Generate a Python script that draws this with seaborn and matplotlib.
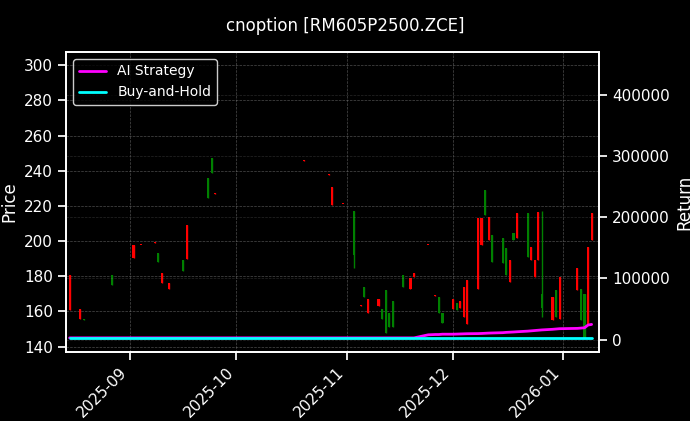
import pandas as pd
import numpy as np
import matplotlib
matplotlib.use("Agg")
import matplotlib.pyplot as plt
import matplotlib.dates as mdates
import seaborn as sns

sns.set_theme(style="dark", rc={
    "figure.facecolor": "black",
    "axes.facecolor": "black",
    "axes.edgecolor": "white",
    "axes.labelcolor": "white",
    "text.color": "white",
    "xtick.color": "white",
    "ytick.color": "white",
    "xtick.bottom": True,
    "ytick.left": True,
})
plt.rcParams["font.family"] = ["DejaVu Sans"]

dates = [
    "2025-08-15", "2025-08-18", "2025-08-19", "2025-08-22", "2025-08-25", "2025-08-27",
    "2025-09-02", "2025-09-04", "2025-09-08", "2025-09-09", "2025-09-10", "2025-09-12",
    "2025-09-16", "2025-09-17", "2025-09-23", "2025-09-24", "2025-09-25",
    "2025-10-20", "2025-10-27", "2025-10-28", "2025-10-31",
    "2025-11-03", "2025-11-05", "2025-11-06", "2025-11-07", "2025-11-10", "2025-11-11",
    "2025-11-12", "2025-11-13", "2025-11-14", "2025-11-17", "2025-11-19", "2025-11-20",
    "2025-11-24", "2025-11-26", "2025-11-27", "2025-11-28",
    "2025-12-01", "2025-12-02", "2025-12-03", "2025-12-04", "2025-12-05",
    "2025-12-08", "2025-12-09", "2025-12-10", "2025-12-11", "2025-12-12",
    "2025-12-15", "2025-12-16", "2025-12-17", "2025-12-18", "2025-12-19",
    "2025-12-22", "2025-12-23", "2025-12-24", "2025-12-25", "2025-12-26",
    "2025-12-29", "2025-12-30", "2025-12-31",
    "2026-01-05", "2026-01-06", "2026-01-07", "2026-01-08", "2026-01-09",
]
opens = [
    160.6, 156.0, 155.5, 167.5, 159.5, 180.6,
    190.3, 197.7, 199.0, 193.0, 176.0, 173.0,
    189.0, 190.0, 236.0, 247.0, 227.0,
    245.7, 237.7, 220.6, 221.0,
    217.0, 163.4, 174.0, 159.4, 163.0, 161.7,
    172.0, 159.4, 166.0, 180.6, 173.0, 179.4,
    197.7, 169.0, 168.0, 159.4,
    161.7, 164.6, 162.0, 156.6, 153.0,
    173.0, 197.7, 229.0, 200.6, 203.4,
    201.7, 196.0, 176.6, 204.6, 201.7,
    216.0, 189.0, 179.4, 189.0, 170.0,
    155.0, 172.0, 156.0,
    172.0, 173.0, 170.0, 153.0, 200.6,
]
closes = [
    180.6, 161.7, 155.0, 167.8, 159.8, 175.0,
    197.7, 198.0, 199.3, 188.0, 181.7, 176.0,
    183.0, 209.0, 224.6, 239.0, 227.3,
    246.0, 238.0, 231.0, 221.3,
    192.0, 163.7, 168.0, 167.0, 167.0, 156.0,
    148.0, 151.0, 151.0, 174.0, 179.0, 182.0,
    198.0, 169.3, 159.4, 153.7,
    167.0, 160.6, 166.0, 173.7, 177.7,
    213.0, 213.0, 215.0, 213.7, 188.0,
    187.4, 180.6, 189.0, 200.6, 216.0,
    191.0, 196.6, 189.0, 216.6, 162.0,
    168.0, 156.6, 179.4,
    184.6, 155.0, 145.0, 196.6, 216.0,
]
highs = [max(o, c) for o, c in zip(opens, closes)]
lows = [min(o, c) for o, c in zip(opens, closes)]
highs[21] = 217.0
lows[21] = 185.0
highs[56] = 217.0
lows[56] = 157.0

strategy = [3000] * 33 + [
    8000, 8500, 8500, 9000,
    9000, 9200, 9400, 9600, 9800,
    10000, 10200, 10500, 10800, 11000,
    11500, 12000, 12300, 12600, 13000,
    14000, 14500, 15000, 15500, 16000,
    17000, 17500, 18000,
    18500, 19000, 19500, 24000, 25000,
]
buy_hold = [3000] * len(dates)

df = pd.DataFrame({
    "date": pd.to_datetime(dates),
    "open": opens, "close": closes, "high": highs, "low": lows,
    "AI Strategy": strategy, "Buy-and-Hold": buy_hold,
})

fig = plt.figure(figsize=(6.9, 4.21), dpi=100)
ax = fig.add_axes([0.0957, 0.164, 0.772, 0.7125])
ax2 = ax.twinx()

up = df["close"] >= df["open"]
colors = np.where(up, "red", "green")
body = (df["close"] - df["open"]).abs().clip(lower=0.4)
ax.vlines(df["date"], df["low"], df["high"], colors=colors, linewidth=1)
ax.bar(df["date"], body, bottom=df[["open", "close"]].min(axis=1),
       width=0.6, color=colors, linewidth=0)

sns.lineplot(data=df, x="date", y="AI Strategy", ax=ax2, color="#ff00ff", linewidth=2, label="AI Strategy")
sns.lineplot(data=df, x="date", y="Buy-and-Hold", ax=ax2, color="#00ffff", linewidth=2, label="Buy-and-Hold")

ax.set_ylim(137, 307.5)
ax2.set_ylim(-20000, 470000)
ax.set_xlim(pd.Timestamp("2025-08-14"), pd.Timestamp("2026-01-11"))
ax.xaxis.set_major_locator(mdates.MonthLocator())
ax.xaxis.set_major_formatter(mdates.DateFormatter("%Y-%m"))
plt.setp(ax.get_xticklabels(), rotation=45, ha="right")

ax.set_ylabel("Price")
ax.set_xlabel("")
ax2.set_ylabel("Return")
ax2.set_xlabel("")
ax.grid(True, color="gray", linestyle="--", linewidth=0.5, alpha=0.6)
ax2.grid(True, color="gray", linestyle="--", linewidth=0.5, alpha=0.3)
for a in (ax, ax2):
    for s in a.spines.values():
        s.set_color("white")
ax2.tick_params(axis="y", right=True, colors="white")

leg = ax2.legend(loc="upper left", facecolor="black", edgecolor="white", fontsize=10)
for t in leg.get_texts():
    t.set_color("white")

fig.suptitle("cnoption [RM605P2500.ZCE]", color="white", fontsize=12, y=0.96)
fig.savefig("out.png", dpi=100, facecolor="black")
